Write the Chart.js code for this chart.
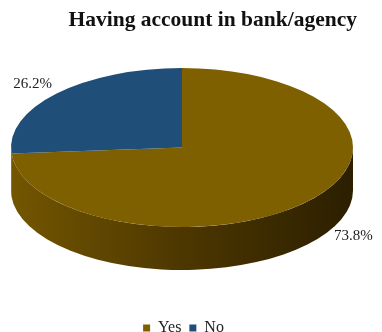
<!DOCTYPE html>
<html>
<head>
<meta charset="utf-8">
<script src="https://cdn.jsdelivr.net/npm/chart.js@4"></script>
<style>
  html, body { margin: 0; padding: 0; background: #fff; }
</style>
</head>
<body>
<canvas id="chart" width="382" height="332"></canvas>
<script>
const categories = ['Yes', 'No'];
const shares = [73.8, 26.2];
const sliceColors = ['#7F6000', '#1F4E79'];
// rim shades, left -> middle -> right
const rimShades = [
    ['#735600', '#4d3700', '#2b1f00'],
    ['#1c476e', '#133250', '#0b1e30']
];

// tilted disc: top face ellipse and rim height
const disc = { cx: 182, cy: 147.5, rx: 171, ry: 79.5, depth: 43 };
// percentage labels, nudged from their radial anchor
const labelShift = [[46, -8], [-24, -9]];
const serif = "'Liberation Serif', 'Times New Roman', serif";

const tiltedPie = {
    id: 'tiltedPie',
    beforeDatasetsDraw(chart) {
        const ctx = chart.ctx;
        const arcs = chart.getDatasetMeta(0).data;

        // rim first, only the front half (0..PI) faces us
        arcs.forEach((arc, i) => {
            const { startAngle, endAngle } = arc.getProps(['startAngle', 'endAngle'], true);
            const a0 = Math.max(startAngle, 0);
            const a1 = Math.min(endAngle, Math.PI);
            if (a1 <= a0) return;

            const grad = ctx.createLinearGradient(disc.cx - disc.rx, 0, disc.cx + disc.rx, 0);
            grad.addColorStop(0, rimShades[i][0]);
            grad.addColorStop(0.5, rimShades[i][1]);
            grad.addColorStop(1, rimShades[i][2]);

            ctx.save();
            ctx.beginPath();
            ctx.ellipse(disc.cx, disc.cy, disc.rx, disc.ry, 0, a0, a1);
            ctx.ellipse(disc.cx, disc.cy + disc.depth, disc.rx, disc.ry, 0, a1, a0, true);
            ctx.closePath();
            ctx.fillStyle = grad;
            ctx.fill();
            ctx.restore();
        });

        // squash the library's round pie into the top face
        const ref = arcs[0];
        const R = ref.outerRadius;
        ctx.save();
        ctx.translate(disc.cx, disc.cy);
        ctx.scale(disc.rx / R, disc.ry / R);
        ctx.translate(-ref.x, -ref.y);
    },
    afterDatasetsDraw(chart) {
        const ctx = chart.ctx;
        ctx.restore();

        const arcs = chart.getDatasetMeta(0).data;
        ctx.save();
        ctx.font = '15px ' + serif;
        ctx.fillStyle = '#222';
        ctx.textAlign = 'center';
        ctx.textBaseline = 'middle';
        arcs.forEach((arc, i) => {
            const { startAngle, endAngle } = arc.getProps(['startAngle', 'endAngle'], true);
            const mid = (startAngle + endAngle) / 2;
            const x = disc.cx + disc.rx * Math.cos(mid);
            let y = disc.cy + disc.ry * Math.sin(mid);
            if (Math.sin(mid) > 0) y += disc.depth;
            const value = chart.data.datasets[0].data[i];
            ctx.fillText(value.toFixed(1) + '%', x + labelShift[i][0], y + labelShift[i][1]);
        });
        ctx.restore();
    }
};

new Chart(document.getElementById('chart'), {
    type: 'pie',
    data: {
        labels: categories,
        datasets: [{
            data: shares,
            backgroundColor: sliceColors,
            borderWidth: 0,
            clip: false
        }]
    },
    options: {
        responsive: false,
        animation: false,
        events: [],
        layout: { padding: { left: 10, right: 25, bottom: -14 } },
        plugins: {
            title: {
                display: true,
                text: 'Having account in bank/agency',
                align: 'end',
                color: '#111',
                font: { family: serif, size: 21.5, weight: 'bold' },
                padding: { top: 8, bottom: 6 }
            },
            legend: {
                position: 'bottom',
                labels: {
                    boxWidth: 7,
                    boxHeight: 7,
                    padding: 8,
                    color: '#222',
                    font: { family: serif, size: 16 }
                }
            },
            tooltip: { enabled: false }
        }
    },
    plugins: [tiltedPie]
});
</script>
</body>
</html>
